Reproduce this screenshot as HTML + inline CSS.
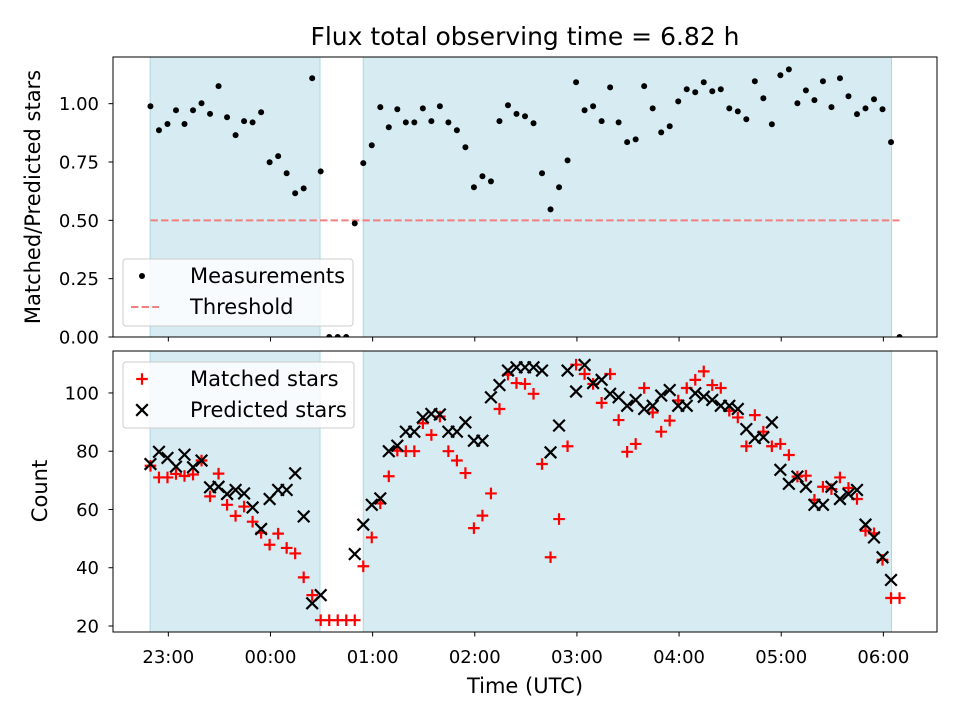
<!DOCTYPE html>
<html><head><meta charset="utf-8">
<style>
body{margin:0;background:#fff;}
svg{display:block;font-family:"DejaVu Sans","Liberation Sans",sans-serif;}
</style></head>
<body>
<svg id="fig" width="960" height="720" viewBox="0 0 960 720"></svg>
<script>
// minutes relative to 23:00 for each measurement
const times = [-10.5,-5.5,-0.5,4.5,9.5,14.5,19.5,24.5,29.5,34.5,39.5,44.5,49.5,54.5,59.5,64.5,69.5,74.5,79.5,84.5,89.5,94.5,99.5,104.5,109.5,114.5,119.5,124.5,129.5,134.5,139.5,144.5,149.5,154.5,159.5,164.5,169.5,174.5,179.5,184.5,189.5,194.5,199.5,204.5,209.5,214.5,219.5,224.5,229.5,234.5,239.5,244.5,249.5,254.5,259.5,264.5,269.5,274.5,279.5,284.5,289.5,294.5,299.5,304.5,309.5,314.5,319.5,324.5,329.5,334.5,339.5,344.5,349.5,354.5,359.5,364.5,369.5,374.5,379.5,384.5,389.5,394.5,399.5,404.5,409.5,414.5,419.5,424.5,429.5];
const ratio = [0.989,0.886,0.913,0.972,0.913,0.972,1.002,0.956,1.075,0.942,0.865,0.925,0.920,0.963,0.749,0.775,0.702,0.616,0.637,1.109,0.710,0,0,0,0.487,0.745,0.822,0.985,0.899,0.976,0.920,0.920,0.980,0.925,0.989,0.920,0.886,0.813,0.642,0.689,0.667,0.925,0.993,0.956,0.946,0.916,0.702,0.547,0.642,0.757,1.092,0.972,0.989,0.925,1.070,0.920,0.835,0.847,1.075,0.980,0.877,0.903,1.010,1.062,1.049,1.092,1.053,1.062,0.980,0.967,0.933,1.096,1.023,0.912,1.122,1.147,1.002,1.057,1.015,1.096,0.985,1.109,1.032,0.955,0.980,1.019,0.976,0.835,0];
const matched = [75,71,71,72.2,71.5,72,76.8,64.5,72.3,61.6,57.8,61,55.8,52,47.9,51.7,46.8,44.9,36.7,30.6,22,22,22,22,22,40.5,50.4,62.1,71.4,80.2,80,80,89.6,85.6,91.9,80,76.8,72.5,53.6,57.9,65.5,94.5,106.3,103.4,103.1,99.7,75.6,43.6,56.7,81.7,109.7,106.5,103.1,96.6,106.5,90.7,79.8,82.5,101.7,93.3,86.7,90.5,97.4,101.7,104.5,107.4,102.7,101.7,93.9,91.6,81.7,92.4,86.7,81.7,82.5,78.7,71.3,71.6,63.3,67.8,67,71,67.4,63.6,52.7,51.8,42.7,29.6,29.6];
const predicted = [75.6,79.8,77.7,74.7,78.8,74.5,76.8,67.6,67.8,65.3,66.7,65.5,60.7,53.3,63.6,66.7,66.7,72.4,57.6,27.8,30.6,null,null,null,44.7,54.8,61.6,63.8,80,81.9,86.7,86.7,91.6,92.8,92.6,86.7,86.7,89.9,83.6,83.6,98.5,102.7,107.7,108.8,108.8,108.8,107.7,79.6,88.8,107.7,100.5,109.6,103.4,104.5,99.7,98.5,95.6,97.6,94.5,95.6,99.1,101,95.6,95.6,99.9,98.7,97.6,95.6,95.6,94.5,87.6,84.5,84.8,89.9,73.6,68.8,71.3,67.8,61.6,61.6,67.8,63.6,65.3,66.7,54.8,50.4,43.6,35.8,null];
const threshold = 0.5;
const spans = [[-10.7,89.1],[114.5,424.8]];
const xTickLabels = ["23:00","00:00","01:00","02:00","03:00","04:00","05:00","06:00"];
const topYTicks = [0,0.25,0.5,0.75,1.0];
const botYTicks = [20,40,60,80,100];

const NS="http://www.w3.org/2000/svg";
const svg=document.getElementById('fig');
function el(tag,attrs,parent){const e=document.createElementNS(NS,tag);for(const k in attrs)e.setAttribute(k,attrs[k]);(parent||svg).appendChild(e);return e;}

const TICKFS=18, LABFS=21, TITLEFS=25, M=5.8;
const AX={l:113,r:937};
const xMin=-32.5,xMax=451.5;
const X=m=>AX.l+(m-xMin)/(xMax-xMin)*(AX.r-AX.l);
const TOP={t:57,b:337,min:0,max:1.2};
const BOT={t:351,b:632,min:17.94,max:114.4};
const Yt=v=>TOP.b-(v-TOP.min)/(TOP.max-TOP.min)*(TOP.b-TOP.t);
const Yb=v=>BOT.b-(v-BOT.min)/(BOT.max-BOT.min)*(BOT.b-BOT.t);

const defs=el('defs',{});
const c1=el('clipPath',{id:'ct'},defs);el('rect',{x:AX.l,y:TOP.t,width:AX.r-AX.l,height:TOP.b-TOP.t},c1);
const c2=el('clipPath',{id:'cb'},defs);el('rect',{x:AX.l,y:BOT.t,width:AX.r-AX.l,height:BOT.b-BOT.t},c2);

function panel(P,clip,name){
  const g=el('g',{'clip-path':'url(#'+clip+')'});
  
  
  spans.forEach((s,i)=>{
    const r=el('rect',{x:X(s[0]),y:P.t,width:X(s[1])-X(s[0]),height:P.b-P.t,fill:'#add8e6','fill-opacity':0.5,stroke:'#add8e6','stroke-width':1},g);
    
    
  });
  return g;
}
function frame(P,name){
  const r=el('rect',{x:AX.l,y:P.t,width:AX.r-AX.l,height:P.b-P.t,fill:'none',stroke:'#000','stroke-width':1});
  
  
  for(let h=0;h<xTickLabels.length;h++){
    const x=X(h*60);
    el('line',{x1:x,x2:x,y1:P.b,y2:P.b+4.5,stroke:'#000','stroke-width':1});
  }
}

// TOP PANEL
const gt=panel(TOP,'ct','ratio');
const th=el('line',{x1:X(times[0]),x2:X(times[times.length-1]),y1:Yt(threshold),y2:Yt(threshold),stroke:'#f08080','stroke-width':2,'stroke-dasharray':'7.4,3.2'},gt);


ratio.forEach((v,i)=>{
  const c=el('circle',{cx:X(times[i]),cy:Yt(v),r:3,fill:'#000'},gt);
  
  
});
frame(TOP,'top');
topYTicks.forEach(v=>{
  const y=Yt(v);
  el('line',{x1:AX.l-4.5,x2:AX.l,y1:y,y2:y,stroke:'#000'});
  const t=el('text',{x:AX.l-14,y:y+6.5,'text-anchor':'end','font-size':TICKFS});
  t.textContent=v.toFixed(2);
  
  
});

// BOTTOM PANEL
const gb=panel(BOT,'cb','count');
matched.forEach((v,i)=>{
  if(v==null)return;
  const x=X(times[i]),y=Yb(v);
  const p=el('path',{d:`M${x-M},${y}H${x+M}M${x},${y-M}V${y+M}`,stroke:'#ff0000','stroke-width':2.2},gb);
  
  
});
predicted.forEach((v,i)=>{
  if(v==null)return;
  const x=X(times[i]),y=Yb(v);
  const p=el('path',{d:`M${x-M},${y-M}L${x+M},${y+M}M${x-M},${y+M}L${x+M},${y-M}`,stroke:'#000','stroke-width':2.2},gb);
  
  
});
frame(BOT,'bottom');
botYTicks.forEach(v=>{
  const y=Yb(v);
  el('line',{x1:AX.l-4.5,x2:AX.l,y1:y,y2:y,stroke:'#000'});
  const t=el('text',{x:AX.l-14,y:y+6.5,'text-anchor':'end','font-size':TICKFS});
  t.textContent=v;
  
  
});
xTickLabels.forEach((s,h)=>{
  const t=el('text',{x:X(h*60),y:663,'text-anchor':'middle','font-size':TICKFS});
  t.textContent=s;
  
  
});

// Legends
function legend(x,y,w,h,items,name){
  const g=el('g',{});
  
  
  el('rect',{x:x,y:y,width:w,height:h,rx:3,fill:'#fff','fill-opacity':0.8,stroke:'#ccc'},g);
  items.forEach((it,i)=>{
    const yy=y+17+i*31;
    if(it.type==='dot') el('circle',{cx:x+19,cy:yy,r:3,fill:'#000'},g);
    if(it.type==='dash') el('line',{x1:x+8,x2:x+36,y1:yy,y2:yy,stroke:'#f08080','stroke-width':2,'stroke-dasharray':'7.4,3.2'},g);
    if(it.type==='plus') el('path',{d:`M${x+19-M},${yy}H${x+19+M}M${x+19},${yy-M}V${yy+M}`,stroke:'#ff0000','stroke-width':2.2},g);
    if(it.type==='x') el('path',{d:`M${x+19-M},${yy-M}L${x+19+M},${yy+M}M${x+19-M},${yy+M}L${x+19+M},${yy-M}`,stroke:'#000','stroke-width':2.2},g);
    const t=el('text',{x:x+67,y:yy+7,'font-size':LABFS},g);
    t.textContent=it.label;
    
    
  });
}
legend(123,259,230,67,[{type:'dot',label:'Measurements'},{type:'dash',label:'Threshold'}],'top-legend');
legend(123,362,231,66,[{type:'plus',label:'Matched stars'},{type:'x',label:'Predicted stars'}],'bottom-legend');

// Titles / labels
let t=el('text',{x:525,y:45,'text-anchor':'middle','font-size':TITLEFS});
t.textContent='Flux total observing time = 6.82 h';


t=el('text',{x:0,y:0,'text-anchor':'middle','font-size':LABFS,transform:`translate(40,197) rotate(-90)`});
t.textContent='Matched/Predicted stars';


t=el('text',{x:0,y:0,'text-anchor':'middle','font-size':LABFS,transform:`translate(47,491) rotate(-90)`});
t.textContent='Count';


t=el('text',{x:525,y:693,'text-anchor':'middle','font-size':LABFS});
t.textContent='Time (UTC)';


</script>
</body></html>
